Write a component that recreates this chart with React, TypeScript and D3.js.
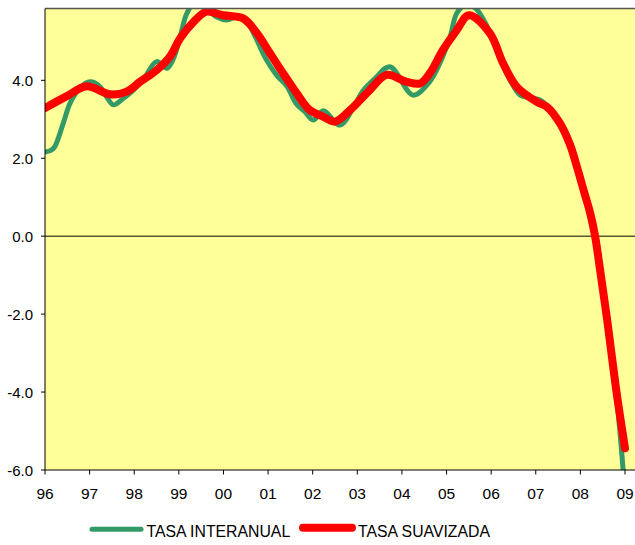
import React from "react";
import * as d3 from "d3";

const yearTicks = [1996, 1997, 1998, 1999, 2000, 2001, 2002, 2003, 2004, 2005, 2006, 2007, 2008, 2009];
const yearLabels = ["96", "97", "98", "99", "00", "01", "02", "03", "04", "05", "06", "07", "08", "09"];
const valueTicks = [-6, -4, -2, 0, 2, 4];

// TASA INTERANUAL (green)
const interanualX = [
  1996.0, 1996.13, 1996.22, 1996.41, 1996.56, 1996.78, 1997.01, 1997.23, 1997.38, 1997.53,
  1997.76, 1997.98, 1998.2, 1998.5, 1998.73, 1998.88, 1999.03, 1999.18, 1999.4, 1999.62,
  1999.85, 2000.07, 2000.3, 2000.5, 2000.72, 2000.95, 2001.2, 2001.42, 2001.63, 2001.82,
  2002.01, 2002.24, 2002.61, 2002.98, 2003.12, 2003.4, 2003.73, 2004.25, 2004.62, 2004.85,
  2005.08, 2005.23, 2005.45, 2005.65, 2005.9, 2006.2, 2006.45, 2006.65, 2006.9, 2007.12,
  2007.3, 2007.54, 2007.77, 2007.92, 2008.07, 2008.22, 2008.33, 2008.44, 2008.59, 2008.81,
  2009.0,
];
const interanualY = [
  2.16, 2.2, 2.3, 2.9, 3.41, 3.8, 3.96, 3.84, 3.58, 3.37,
  3.54, 3.75, 4.01, 4.48, 4.31, 4.56, 5.12, 5.72, 6.05, 5.85,
  5.62, 5.55, 5.62, 5.55, 5.1, 4.55, 4.12, 3.85, 3.4, 3.2,
  2.98, 3.22, 2.85, 3.45, 3.72, 4.05, 4.35, 3.62, 3.96, 4.44,
  5.12, 5.72, 5.95, 5.85, 5.4, 4.55, 3.95, 3.62, 3.55, 3.48,
  3.28, 2.96, 2.42, 1.86, 1.23, 0.62, 0.02, -0.85, -2.08, -4.1,
  -6.6,
];

// TASA SUAVIZADA (red)
const suavizadaX = [
  1996.0, 1996.5, 1996.93, 1997.46, 1997.83, 1998.13, 1998.5, 1998.8, 1999.03, 1999.33,
  1999.62, 1999.99, 2000.44, 2000.75, 2001.04, 2001.33, 2001.64, 2001.93, 2002.23, 2002.5,
  2002.84, 2003.06, 2003.28, 2003.66, 2004.11, 2004.41, 2004.63, 2004.92, 2005.23, 2005.5,
  2005.97, 2006.27, 2006.57, 2007.02, 2007.25, 2007.54, 2007.77, 2007.92, 2008.07, 2008.22,
  2008.33, 2008.44, 2008.59, 2008.81, 2009.0,
];
const suavizadaY = [
  3.29, 3.6, 3.85, 3.64, 3.71, 3.96, 4.26, 4.61, 5.08, 5.5,
  5.76, 5.67, 5.59, 5.21, 4.7, 4.19, 3.67, 3.24, 3.07, 2.94,
  3.24, 3.49, 3.75, 4.14, 3.96, 3.92, 4.19, 4.78, 5.29, 5.67,
  5.21, 4.43, 3.84, 3.45, 3.32, 2.9, 2.34, 1.79, 1.19, 0.59,
  0.0, -0.85, -2.06, -4.0, -5.44,
];

const W = 635;
const H = 545;
const left = 45;
const right = 635;
const top = 8.6;
const bottom = 470;

export default function App() {
  const x = d3.scaleLinear().domain([1996, 2009]).range([left, 625]);
  const y = d3.scaleLinear().domain([-6, 5.84]).range([bottom, top]);

  const line = d3
    .line<[number, number]>()
    .x((d) => x(d[0]))
    .y((d) => y(d[1]))
    .curve(d3.curveCatmullRom.alpha(0.5));

  const green = line(interanualX.map((v, i) => [v, interanualY[i]] as [number, number])) || "";
  const red = line(suavizadaX.map((v, i) => [v, suavizadaY[i]] as [number, number])) || "";

  const font = "Arial, 'Liberation Sans', sans-serif";

  return (
    <svg
      width={W}
      height={H}
      style={{ position: "absolute", left: 0, top: 0, background: "#fff" }}
      fontFamily={font}
    >
      <defs>
        <clipPath id="plotClip">
          <rect x={left} y={top} width={right - left} height={bottom - top} />
        </clipPath>
      </defs>
      <rect x={left} y={top} width={right - left} height={bottom - top} fill="#FFFF99" />
      <line x1={left} x2={right} y1={y(0)} y2={y(0)} stroke="#000" strokeWidth={1} />
      <g clipPath="url(#plotClip)">
        <path d={green} fill="none" stroke="#339966" strokeWidth={5} strokeLinejoin="round" strokeLinecap="round" />
        <path d={red} fill="none" stroke="#FF0000" strokeWidth={8} strokeLinejoin="round" strokeLinecap="round" />
      </g>
      <line x1={left} x2={right} y1={top} y2={top} stroke="#555" strokeWidth={1.5} />
      <line x1={left} x2={left} y1={top} y2={bottom} stroke="#000" strokeWidth={1} />
      <line x1={left} x2={right} y1={bottom} y2={bottom} stroke="#000" strokeWidth={1} />
      {valueTicks.map((v) => (
        <g key={v}>
          <line x1={left - 4} x2={left} y1={y(v)} y2={y(v)} stroke="#000" />
          <text x={33} y={y(v) + 5.5} textAnchor="end" fontSize={15} fill="#000">
            {v.toFixed(1)}
          </text>
        </g>
      ))}
      {yearTicks.map((t, i) => (
        <g key={t}>
          <line x1={x(t)} x2={x(t)} y1={bottom} y2={bottom + 4.5} stroke="#000" />
          <text x={x(t)} y={499} textAnchor="middle" fontSize={15.5} fill="#000">
            {yearLabels[i]}
          </text>
        </g>
      ))}
      <line x1={92} x2={141} y1={529.3} y2={529.3} stroke="#339966" strokeWidth={5} strokeLinecap="round" />
      <text x={146.5} y={536.5} fontSize={15.8} fill="#000">TASA INTERANUAL</text>
      <line x1={303} x2={352} y1={527.7} y2={527.7} stroke="#FF0000" strokeWidth={8} strokeLinecap="round" />
      <text x={358} y={536.5} fontSize={15.8} fill="#000">TASA SUAVIZADA</text>
    </svg>
  );
}
